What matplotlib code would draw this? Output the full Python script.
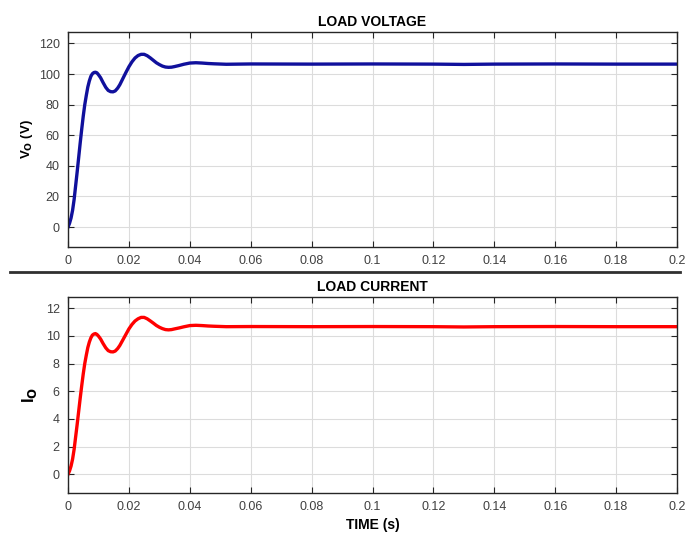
import matplotlib.pyplot as plt
import matplotlib.lines as mlines

plt.rcParams['font.family'] = ['Liberation Sans', 'DejaVu Sans']

# time (ms)
t_ms = [0, 0.5, 1.0, 1.5, 2.0, 2.5, 3.0, 3.5, 4.0, 4.5, 5.0, 5.5, 6.0, 6.5, 7.0, 7.5,
        8.0, 8.5, 9.0, 9.5, 10.0, 10.7, 11.5, 12.4, 13.2, 14.0, 14.8, 15.5, 16.3,
        17.0, 18.0, 19.0, 20.0, 21.0, 22.0, 23.0, 24.0, 25.0, 26.0, 27.0, 28.0,
        29.0, 30.0, 31.0, 32.0, 33.0, 34.0, 35.0, 36.5, 38.0, 40.0, 42.0, 44.0,
        46.0, 48.0, 52.0, 60.0, 80.0, 100.0, 120.0, 130.0, 140.0, 160.0, 180.0, 200.0]

# load voltage (V)
v_load = [0, 2.5, 6, 11, 18, 27, 36, 45.5, 55, 64, 72.5, 80, 86, 91.5, 95.5, 98.5,
          100.2, 101, 101.2, 100.8, 99.6, 97.6, 94.5, 91.3, 89.3, 88.5, 88.4, 89, 90.8,
          93, 97, 101, 104.8, 108, 110.5, 112.1, 112.9, 112.9, 112, 110.6, 109,
          107.4, 106.2, 105.2, 104.6, 104.4, 104.5, 104.9, 105.6, 106.4, 107.2, 107.4, 107.2,
          106.9, 106.7, 106.4, 106.6, 106.5, 106.6, 106.5, 106.3, 106.5, 106.6, 106.5, 106.5]

# load current (A)
i_load = [0, 0.25, 0.6, 1.1, 1.8, 2.7, 3.6, 4.55, 5.5, 6.4, 7.25, 8.0, 8.6, 9.15, 9.55, 9.85,
          10.05, 10.13, 10.16, 10.1, 9.98, 9.77, 9.45, 9.13, 8.93, 8.85, 8.84, 8.9, 9.08,
          9.3, 9.7, 10.1, 10.5, 10.82, 11.07, 11.23, 11.33, 11.33, 11.23, 11.08, 10.92,
          10.75, 10.62, 10.52, 10.45, 10.43, 10.45, 10.5, 10.57, 10.65, 10.74, 10.76, 10.74,
          10.71, 10.69, 10.66, 10.67, 10.66, 10.67, 10.66, 10.64, 10.66, 10.67, 10.66, 10.66]

t = [x / 1000 for x in t_ms]

xticks = [0, 0.02, 0.04, 0.06, 0.08, 0.1, 0.12, 0.14, 0.16, 0.18, 0.2]
xticklabels = ['0', '0.02', '0.04', '0.06', '0.08', '0.1', '0.12', '0.14', '0.16', '0.18', '0.2']

fig = plt.figure(figsize=(6.85, 5.33), dpi=100)
ax1 = fig.add_axes([0.0993, 0.5366, 0.889, 0.4034])
ax2 = fig.add_axes([0.0993, 0.075, 0.889, 0.3677])

ax1.plot(t, v_load, color='#10109c', linewidth=2.4, solid_joinstyle='round')
ax2.plot(t, i_load, color='#ff0000', linewidth=2.4, solid_joinstyle='round')

for ax in (ax1, ax2):
    ax.set_xlim(0, 0.2)
    ax.set_xticks(xticks)
    ax.set_xticklabels(xticklabels)
    ax.grid(True, color='#dcdcdc', linewidth=0.8)
    ax.set_axisbelow(True)
    ax.tick_params(direction='in', top=True, right=True, length=4,
                   labelsize=9, colors='#262626', labelcolor='#404040', pad=6)
    for s in ax.spines.values():
        s.set_color('#262626')
        s.set_linewidth(1.0)

ax1.set_ylim(-13, 127.5)
ax1.set_yticks([0, 20, 40, 60, 80, 100, 120])
ax1.set_title('LOAD VOLTAGE', fontsize=10, fontweight='bold', pad=4)
ax1.set_ylabel(r'V$_\mathbf{O}$ (V)', fontsize=9.5, fontweight='bold', labelpad=3)

ax2.set_ylim(-1.35, 12.8)
ax2.set_yticks([0, 2, 4, 6, 8, 10, 12])
ax2.set_title('LOAD CURRENT', fontsize=10, fontweight='bold', pad=4)
ax2.set_ylabel(r'I$_\mathbf{O}$', fontsize=12, fontweight='bold', labelpad=5)
ax2.set_xlabel('TIME (s)', fontsize=10, fontweight='bold', labelpad=3)

# separator between the two panels
fig.add_artist(mlines.Line2D([0.015, 0.993], [0.4897, 0.4897], color='#303030',
                             linewidth=2, transform=fig.transFigure))

fig.savefig('out.png', dpi=100)
